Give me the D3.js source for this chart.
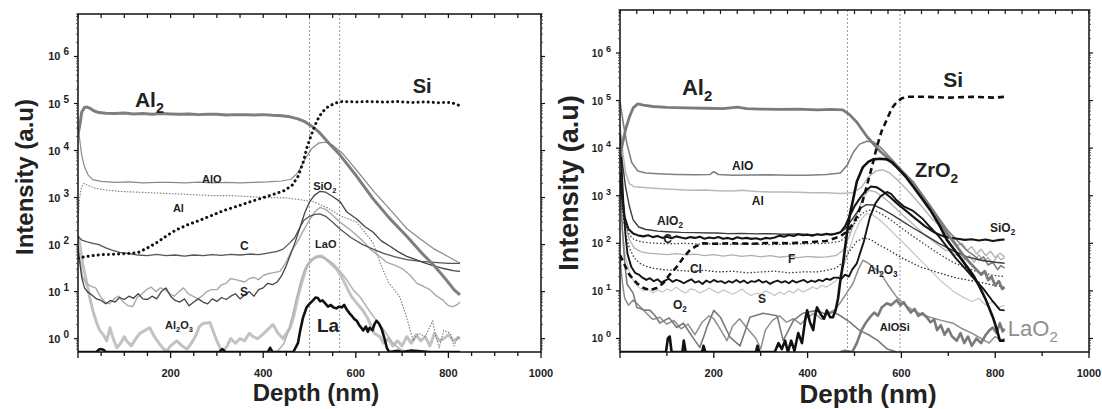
<!DOCTYPE html>
<html>
<head>
<meta charset="utf-8">
<script src="https://cdn.jsdelivr.net/npm/d3@7"></script>
<style>
  html, body { margin: 0; padding: 0; background: #fff; }
  svg { display: block; }
  text { font-family: "Liberation Sans", Arial, sans-serif; }
</style>
</head>
<body>
<svg id="chart" width="1102" height="409"></svg>
<script>
// ---------- shared axis values ----------
const depthDomain = [0, 1000];
const intensityDomain = [0.52, 8e6];
const decades = [0, 1, 2, 3, 4, 5, 6];
const depthLabels = [200, 400, 600, 800, 1000];

// ---------- left profile (La-containing stack) : [depth nm, intensity] ----------
const L_Al2 = [[0,2.2e4],[4,3.5e4],[8,6.5e4],[14,8.2e4],[20,8.4e4],[26,7.9e4],[34,7e4],[45,6.4e4],[60,6.2e4],[80,6.1e4],[100,6.3e4],[120,6e4],[140,6.1e4],[160,5.9e4],[180,6.1e4],[200,6e4],[220,5.9e4],[240,6e4],[260,5.8e4],[280,5.9e4],[300,5.9e4],[320,5.7e4],[340,5.8e4],[360,5.8e4],[380,5.7e4],[400,5.8e4],[420,5.6e4],[440,5.5e4],[458,5.2e4],[475,4.7e4],[490,4.1e4],[505,3.3e4],[520,2.5e4],[540,1.5e4],[566,8e3],[600,3e3],[637,950],[672,370],[710,150],[740,70],[770,35],[795,18],[812,11],[825,8.5]];
const L_Si = [[0,52],[15,55],[30,58],[50,61],[70,62],[90,63],[110,65],[130,68],[150,85],[170,110],[190,150],[210,200],[235,260],[260,320],[287,410],[315,530],[345,660],[370,800],[395,960],[420,1150],[445,1400],[462,1800],[475,2800],[486,5500],[495,1.2e4],[505,2.3e4],[516,4.3e4],[527,6.5e4],[540,8.5e4],[555,1.02e5],[570,1.1e5],[600,1.08e5],[630,1.1e5],[660,1.07e5],[690,1.1e5],[720,1.05e5],[750,1.08e5],[780,1.04e5],[805,1.06e5],[825,9e4]];
const L_AlO = [[0,3.5e4],[4,1.6e4],[8,8e3],[14,4.5e3],[22,3e3],[32,2.4e3],[50,2.2e3],[80,2.1e3],[110,2.15e3],[140,2.05e3],[170,2.1e3],[200,2.1e3],[230,2.05e3],[260,2.12e3],[290,2.05e3],[320,2.1e3],[350,2.05e3],[380,2.1e3],[410,2.15e3],[440,2.25e3],[460,2.45e3],[475,3.4e3],[490,6.5e3],[505,1.1e4],[520,1.45e4],[535,1.5e4],[550,1.3e4],[570,9e3],[600,4e3],[640,1.3e3],[680,480],[710,220],[740,130],[770,80],[800,55],[825,40]];
const L_Al = [[0,300],[3,900],[7,1.6e3],[12,2e3],[20,1.85e3],[35,1.6e3],[60,1.45e3],[90,1.35e3],[130,1.3e3],[170,1.25e3],[210,1.2e3],[250,1.15e3],[290,1.1e3],[330,1.1e3],[370,1.05e3],[410,1e3],[450,980],[480,900],[510,800],[540,600],[566,410],[602,300],[637,110],[652,42],[670,16],[695,7.7],[710,2.8],[724,0.9],[735,1.3],[750,1.1],[766,2.4],[772,1.2],[780,0.64],[790,1.5],[804,1.3],[812,0.7],[820,1.1],[825,0.9]];
const L_C = [[0,150],[8,125],[18,115],[30,108],[45,100],[60,85],[75,75],[90,68],[110,64],[130,60],[150,58],[170,62],[190,58],[210,60],[230,57],[250,60],[270,58],[290,61],[310,59],[330,62],[350,60],[370,63],[390,61],[410,66],[430,72],[443,80],[458,110],[468,140],[478,220],[488,330],[500,400],[512,440],[522,450],[535,400],[550,300],[566,215],[590,140],[615,100],[637,80],[660,65],[685,55],[710,48],[740,44],[770,42],[800,40],[825,40]];
const L_SiO2 = [[0,90],[4,40],[8,20],[14,12],[20,10],[30,8.5],[40,7],[50,6.5],[60,5.5],[70,6.5],[80,6],[90,7.5],[100,6.8],[110,8],[120,7.2],[130,9],[140,7],[150,6.8],[160,8],[170,7],[180,10],[190,12],[200,8],[210,6.5],[220,6],[230,7],[240,5],[250,6],[260,7],[270,6],[280,5.5],[290,7],[300,6.2],[310,7.5],[320,6.8],[330,8],[340,9],[350,7],[360,8.5],[370,10],[380,8],[390,11],[400,12],[410,15],[420,14],[430,16],[440,22],[449,34],[460,65],[470,120],[480,240],[490,480],[500,800],[510,1100],[522,1350],[535,1300],[550,1050],[566,820],[580,500],[602,350],[620,240],[637,185],[655,120],[674,92],[692,70],[710,56],[730,48],[745,42],[765,36],[790,31],[810,28],[825,27]];
const L_S = [[0,80],[5,40],[10,20],[18,15],[28,13],[38,12],[48,8],[58,6],[68,5.5],[78,7],[88,8],[98,6],[108,5],[118,4.8],[128,7.5],[138,9],[148,11],[158,12.5],[168,10],[178,12],[188,11],[198,9],[208,8],[218,10],[228,12],[238,9],[248,8],[258,7],[268,8],[278,10],[288,11],[300,11],[310,14],[320,15],[330,19],[340,18],[350,17],[360,16],[370,19],[380,20],[390,18],[400,22],[410,24],[420,25],[436,27],[448,40],[460,70],[473,110],[487,200],[501,350],[512,500],[523,620],[535,560],[550,420],[566,300],[594,185],[615,120],[631,80],[650,57],[667,42],[685,36],[702,30],[718,22],[732,15],[746,13],[760,11],[775,8],[788,6.6],[800,5],[810,4.8],[818,5.2],[825,6]];
const L_LaO = [[430,0.45],[445,0.8],[455,1.5],[463,3],[470,6],[480,15],[490,30],[500,42],[512,52],[522,55],[535,50],[550,40],[566,27],[580,18],[594,11],[610,7.5],[625,4.5],[640,2.8],[655,1.8],[668,1.2],[680,0.8],[695,0.6],[710,0.45]];
const L_Al2O3 = [[0,150],[4,100],[10,40],[19,15],[26,7],[32,4],[40,2.2],[47,1.5],[55,1.2],[62,0.9],[69,1.7],[76,1],[84,0.64],[92,0.8],[100,1.1],[105,0.9],[115,0.7],[125,1],[134,1.3],[145,1.5],[155,1.7],[165,1.1],[175,0.8],[185,0.6],[192,0.55],[200,0.7],[213,0.9],[225,0.7],[235,0.6],[245,0.8],[255,1.2],[262,1.8],[270,2.1],[285,2.2],[295,1.2],[300,0.9],[308,0.6],[314,0.55],[322,0.7],[330,1],[340,0.8],[350,1],[360,0.9],[370,1.3],[378,1.1],[388,1],[398,1.2],[408,1.5],[421,2],[432,1.3],[443,1],[450,1.3],[458,1.7],[466,3],[475,7.7],[485,18],[494,34],[505,48],[516,56],[527,57],[540,45],[559,30],[570,20],[580,12.6],[590,8],[602,5.7],[615,4],[625,2.8],[640,1.3],[652,1.1],[660,0.8],[670,1],[680,0.7],[690,0.9],[700,0.7],[710,1.1],[720,0.8],[730,1.2],[740,0.9],[750,1.1],[760,0.7],[770,1.3],[780,0.9],[790,1],[800,1.2],[812,0.9],[825,1.1]];
const L_La = [[0,0.5],[40,0.5],[45,0.58],[48,0.6],[55,0.58],[60,0.5],[305,0.5],[312,0.6],[318,0.5],[410,0.5],[415,0.64],[420,0.5],[465,0.5],[475,0.8],[480,1.5],[486,2.8],[494,4.7],[500,5.5],[508,6.6],[513,7.5],[518,7.3],[523,6.2],[528,6.5],[534,5.6],[540,4.8],[546,5.2],[552,4.6],[558,4.4],[564,4.8],[570,4.6],[575,5.2],[580,4.2],[587,3.4],[592,3],[597,2.6],[602,2.4],[608,1.9],[612,1.7],[616,1.5],[622,1.8],[626,1.4],[630,1.7],[636,1.5],[640,2],[645,2.4],[650,2.1],[656,1.6],[662,1],[667,0.64],[672,0.5],[690,0.55],[700,0.5],[720,0.56],[760,0.5],[825,0.5]];
const L_interfaces = [500, 565];

// ---------- right profile (Zr-containing stack) ----------
const R_Al2 = [[0,6.7e3],[5,1.2e4],[12,2.5e4],[20,4.5e4],[28,7e4],[38,8.5e4],[50,8e4],[70,7.5e4],[100,7.2e4],[140,7e4],[180,6.9e4],[220,6.8e4],[250,7.3e4],[270,6.8e4],[300,6.6e4],[340,6.5e4],[380,6.6e4],[420,6.4e4],[450,6.5e4],[475,6.4e4],[490,5e4],[505,3.5e4],[526,1.78e4],[555,8.5e3],[582,5e3],[625,1.9e3],[661,590],[697,165],[730,60],[745,40],[760,28],[770,22],[778,26],[785,17],[792,20],[800,13],[808,16],[815,11],[820,12]];
const R_Si = [[0,57],[10,35],[20,22],[36,14.5],[50,11.5],[64,10.3],[78,11.5],[92,14.5],[106,22],[121,32],[135,50],[149,72],[163,88],[177,100],[200,98],[240,100],[280,98],[320,102],[360,100],[400,105],[440,112],[470,140],[485,180],[497,260],[505,360],[516,700],[526,1.56e3],[537,4e3],[548,1.1e4],[558,2.3e4],[569,4e4],[580,7e4],[590,9.3e4],[600,1.1e5],[611,1.2e5],[650,1.2e5],[700,1.15e5],[750,1.2e5],[800,1.15e5],[820,1.2e5]];
const R_AlO = [[0,9.5e4],[8,2.9e4],[15,1.2e4],[25,5e3],[38,3.3e3],[55,3e3],[80,2.9e3],[120,2.8e3],[160,2.75e3],[192,2.8e3],[200,3.2e3],[210,2.8e3],[240,2.7e3],[280,2.72e3],[320,2.75e3],[360,2.7e3],[400,2.7e3],[440,2.8e3],[470,3e3],[485,4.5e3],[497,8e3],[510,1.2e4],[526,1.4e4],[540,1.35e4],[555,1.05e4],[575,6.5e3],[600,3.5e3],[625,1.9e3],[660,650],[700,180],[740,70],[755,55],[765,45],[775,52],[785,35],[795,40],[805,28],[812,34],[820,30]];
const R_Al = [[0,3e4],[6,8e3],[12,3e3],[20,1.8e3],[30,1.55e3],[45,1.5e3],[65,1.45e3],[90,1.4e3],[120,1.35e3],[150,1.3e3],[180,1.32e3],[210,1.28e3],[240,1.25e3],[260,1.3e3],[290,1.22e3],[320,1.2e3],[350,1.2e3],[380,1.18e3],[410,1.15e3],[440,1.15e3],[470,1.12e3],[495,1.15e3],[515,1.5e3],[530,2.5e3],[545,3.3e3],[560,3.5e3],[575,3e3],[595,2e3],[620,1.1e3],[650,500],[665,330],[680,240],[695,150],[710,120],[720,90],[730,100],[740,70],[750,85],[760,60],[770,75],[780,55],[790,68],[800,50],[810,62],[820,52]];
const R_AlO2 = [[0,1.5e4],[5,5e3],[12,1.5e3],[20,600],[28,310],[40,220],[55,195],[64,190],[80,180],[100,175],[130,170],[160,168],[190,165],[207,165],[230,160],[260,162],[290,158],[320,160],[350,155],[380,158],[410,152],[440,155],[465,160],[480,200],[495,320],[510,520],[525,650],[540,640],[560,520],[580,400],[600,300],[625,210],[650,150],[680,100],[710,70],[740,52],[770,44],[800,40],[820,38]];
const R_SiO2 = [[0,3e3],[5,900],[10,350],[18,200],[28,160],[40,145],[50,140],[60,148],[70,135],[80,142],[90,130],[100,138],[110,128],[120,140],[130,132],[140,126],[150,135],[160,130],[170,138],[180,125],[190,132],[200,128],[210,136],[220,125],[230,130],[240,122],[250,134],[260,126],[270,130],[280,124],[290,128],[300,120],[310,130],[320,126],[330,132],[340,145],[350,138],[360,150],[370,142],[380,155],[390,148],[400,152],[410,145],[420,155],[430,150],[440,158],[450,152],[460,160],[470,170],[480,230],[490,380],[500,600],[512,900],[525,1.3e3],[535,1.56e3],[548,1.5e3],[560,1.25e3],[575,950],[590,700],[610,480],[630,330],[650,230],[670,170],[690,140],[705,130],[720,125],[735,118],[750,122],[765,115],[780,120],[795,112],[810,118],[820,120]];
const R_C = [[0,2e3],[5,600],[12,250],[20,150],[30,120],[45,108],[60,103],[80,100],[110,98],[140,100],[170,96],[200,98],[240,95],[280,97],[320,94],[360,96],[400,98],[440,100],[470,110],[485,150],[500,260],[515,420],[530,500],[545,480],[560,400],[580,300],[600,210],[625,140],[650,95],[680,60],[710,40],[740,30],[770,24],[800,21],[820,20]];
const R_ClDot = [[0,3e3],[5,500],[12,150],[20,80],[30,50],[42,38],[55,33],[70,30],[90,28],[120,27],[150,26],[180,27],[210,25],[240,26],[270,24],[300,25],[330,26],[360,24],[390,25],[420,25],[440,27],[460,30],[475,40],[490,70],[505,110],[520,130],[535,120],[550,95],[570,75],[600,50],[640,32],[680,24],[710,19.5],[740,17],[770,15],[800,13],[820,12]];
const R_Cl = [[0,2e4],[4,3e3],[8,500],[12,140],[16,60],[24,32],[32,24],[40,22],[48,19],[56,17],[64,18.5],[72,16],[80,17.5],[88,15],[96,16.5],[104,18],[112,15.5],[120,17],[128,16],[136,14.5],[144,16],[152,17.5],[160,15],[168,16],[176,14],[184,16.5],[192,15],[200,17],[208,15.5],[216,16],[224,14.5],[232,16],[240,15],[248,17],[256,15],[264,16.5],[272,14.5],[280,16],[288,15.5],[296,17],[304,15],[312,16],[320,14],[328,15.5],[336,16.5],[344,15],[352,16],[360,14.5],[368,16.5],[376,15],[384,16],[392,17],[400,15],[408,16.5],[416,15.5],[424,17],[432,16],[440,18],[448,17],[456,19],[464,19],[472,18],[480,22],[488,20],[495,28],[505,38],[520,110],[533,360],[545,700],[555,960],[569,1.2e3],[578,1.1e3],[590,800],[605,600],[625,480],[645,330],[661,220],[680,140],[697,84],[715,50],[735,30],[755,18],[775,11],[795,6],[810,4],[820,3.9]];
const R_F = [[0,4e3],[5,1e3],[12,250],[20,120],[30,80],[45,66],[60,62],[80,60],[100,58],[120,61],[140,57],[160,59],[180,55],[200,58],[220,54],[240,57],[260,53],[280,56],[300,52],[320,55],[340,51],[360,54],[380,50],[400,53],[420,51],[440,52],[460,55],[475,70],[490,150],[505,400],[518,900],[530,1.3e3],[545,1.2e3],[560,950],[580,650],[600,420],[625,250],[650,150],[680,90],[695,70],[705,75],[715,55],[725,62],[735,45],[745,55],[755,40],[765,58],[775,42],[785,50],[795,38],[805,55],[812,45],[820,50]];
const R_S = [[0,1e3],[5,200],[12,50],[20,25],[30,15],[40,12],[50,10],[60,11],[70,9],[80,10.5],[90,9.5],[100,11],[110,10],[120,12],[130,10],[140,9],[150,11],[160,10.5],[170,9],[180,10],[190,11.5],[200,10],[210,9],[220,10.5],[230,9.5],[240,8.5],[250,9.5],[260,11],[270,9],[280,8],[290,9],[300,8.5],[310,10],[320,9],[330,8],[340,9.5],[350,8.5],[360,10],[370,9],[380,11],[390,9.5],[400,10.5],[410,12],[420,11],[430,13],[440,12],[450,14],[460,16],[470,22],[480,40],[490,80],[500,160],[512,300],[525,420],[538,400],[552,320],[570,220],[590,140],[610,90],[635,50],[660,28],[685,16],[710,10],[730,7.5],[750,6],[765,7],[780,5],[795,6],[808,4.5],[820,5]];
const R_O2 = [[0,2e3],[5,200],[10,40],[15,14],[28,9],[36,4.5],[50,4],[64,3.9],[75,3],[85,2.1],[95,2.4],[105,2.7],[121,1.7],[135,2.1],[149,1.3],[160,0.9],[170,0.65],[180,1.2],[185,1.7],[200,3.9],[214,2.8],[235,1.05],[256,0.7],[277,2.8],[305,3.4],[335,3],[348,0.9],[370,2.4],[390,3.4],[420,3.9],[440,3.2],[455,3.6],[470,3],[490,2.2],[510,1.5],[530,1.2],[550,0.9],[570,0.6],[590,0.5]];
const R_Al2O3 = [[0,50],[5,15],[10,7],[18,5],[28,6.4],[40,5],[55,3.5],[70,2.5],[85,2.8],[100,2],[115,2.4],[130,1.6],[145,2],[160,1.2],[175,2.2],[190,3],[200,2.6],[215,1.5],[228,0.9],[240,1.8],[255,2.6],[270,1.7],[290,1],[300,0.6],[310,1.5],[325,2.4],[340,3],[355,2.2],[370,2.6],[385,2],[400,2.8],[415,3.4],[430,2.5],[445,3.5],[458,4],[469,5.5],[483,9],[497,14.5],[508,28],[518,44],[530,38],[542,30],[554,25],[570,14],[590,7.4],[608,5],[625,3.9],[643,3.2],[661,2.8],[685,2.4],[710,2.1],[730,1.6],[750,1.3],[770,1],[787,0.8],[800,1.1],[812,0.9],[820,1]];
const R_AlOSi = [[470,0.45],[480,0.55],[495,0.5],[505,0.8],[515,1.5],[525,2.2],[533,2.8],[542,3.5],[550,3],[558,4.5],[569,5.5],[578,5],[590,6.4],[598,5],[605,5.8],[612,4.5],[620,3.5],[628,4.2],[636,3],[645,3.4],[654,2.8],[662,2.2],[670,2.5],[676,1.5],[684,1.9],[692,1.2],[700,1.6],[708,1.1],[718,0.9],[726,1.3],[734,0.8],[742,1.1],[750,0.7],[760,1],[770,0.8],[780,1.2],[788,1.5],[795,1.7],[803,1.3],[810,2.1],[816,1.4],[820,1.6]];
const R_ZrO2 = [[0,0.5],[98,0.5],[102,1],[106,1.1],[110,0.5],[133,0.5],[136,0.9],[140,0.5],[175,0.5],[178,0.7],[182,0.5],[290,0.5],[293,0.7],[297,0.5],[330,0.5],[338,0.8],[345,0.6],[352,0.9],[358,0.5],[365,0.9],[372,0.55],[380,1.3],[388,0.8],[395,2.5],[399,3.9],[405,2.2],[412,1.5],[416,3],[420,4.5],[428,3.2],[435,2.6],[441,3.9],[448,2.8],[454,2.8],[460,4],[465,7],[469,14.5],[476,40],[484,165],[490,400],[497,830],[505,2e3],[518,4e3],[530,5.2e3],[540,5.8e3],[555,6e3],[569,5.8e3],[580,5e3],[590,4e3],[608,2.6e3],[625,1.56e3],[643,900],[661,510],[680,250],[697,118],[712,75],[725,51],[740,32],[755,20],[767,12],[780,6.5],[795,2.8],[803,1.6],[810,0.9],[820,0.9]];
const R_interfaces = [485, 597];

// ---------- drawing ----------
const svg = d3.select("#chart");

// text with "_n" subscripts (e.g. "Al_2O_3")
function richText(sel, str, size) {
  const parts = str.split(/(_\d)/).filter(p => p.length);
  let sub = false;
  parts.forEach(p => {
    if (p[0] === "_") {
      sel.append("tspan").attr("font-size", size * 0.68).attr("dy", size * 0.28).text(p.slice(1));
      sub = true;
    } else {
      const t = sel.append("tspan").text(p);
      if (sub) { t.attr("dy", -size * 0.28); sub = false; }
    }
  });
}

function drawPanel(p) {
  const g = svg.append("g");
  const x = d3.scaleLinear().domain(depthDomain).range([p.x0, p.x1]);
  const y = d3.scaleLog().domain(intensityDomain).range([p.y1, p.y0]).clamp(true);

  const clipId = "clip" + p.id;
  svg.append("clipPath").attr("id", clipId).append("rect")
    .attr("x", p.x0).attr("y", p.y0).attr("width", p.x1 - p.x0).attr("height", p.y1 - p.y0);

  // interface guides
  g.selectAll(".guide").data(p.guides).join("line")
    .attr("x1", d => x(d)).attr("x2", d => x(d))
    .attr("y1", p.y0).attr("y2", p.y1)
    .attr("stroke", "#9a9a9a").attr("stroke-width", 1).attr("stroke-dasharray", "2,2");

  // profiles
  const line = d3.line().x(d => x(d[0])).y(d => y(d[1]));
  const plot = g.append("g").attr("clip-path", `url(#${clipId})`);
  p.series.forEach(s => {
    plot.append("path").datum(s.data)
      .attr("d", line)
      .attr("fill", "none")
      .attr("stroke", s.color)
      .attr("stroke-width", s.width)
      .attr("stroke-linejoin", "round")
      .attr("stroke-linecap", s.cap || "butt")
      .attr("stroke-dasharray", s.dash || null);
  });

  // frame
  g.append("rect").attr("x", p.x0).attr("y", p.y0)
    .attr("width", p.x1 - p.x0).attr("height", p.y1 - p.y0)
    .attr("fill", "none").attr("stroke", "#111").attr("stroke-width", 1.5);

  // bottom ticks (outward) and labels
  const bt = d3.range(0, 1000.01, p.bottomStep);
  g.selectAll(".bt").data(bt).join("line")
    .attr("x1", d => x(d)).attr("x2", d => x(d))
    .attr("y1", p.y1).attr("y2", d => p.y1 + (d % 200 === 0 ? 6 : 4))
    .attr("stroke", "#111").attr("stroke-width", 1.3);
  g.selectAll(".bl").data(depthLabels).join("text")
    .attr("x", d => x(d)).attr("y", p.y1 + 25)
    .attr("text-anchor", "middle").attr("font-size", 11).attr("font-weight", "bold")
    .attr("fill", "#222").text(d => d);

  // top ticks (inward)
  const tt = d3.range(0, p.topCount + 1).map(i => i * 1000 / p.topCount);
  g.selectAll(".tt").data(tt).join("line")
    .attr("x1", d => x(d)).attr("x2", d => x(d))
    .attr("y1", p.y0).attr("y2", p.y0 + 4)
    .attr("stroke", "#111").attr("stroke-width", 1.2);

  // log ticks on both vertical sides (outward)
  const minor = [];
  decades.concat([-1]).forEach(n => { for (let k = 2; k <= 9; k++) minor.push(k * Math.pow(10, n)); });
  const minorIn = minor.filter(v => v >= intensityDomain[0] && v <= intensityDomain[1]);
  const major = decades.map(n => Math.pow(10, n));
  [[p.x0, -1], [p.x1, 1]].forEach(([ax, dir]) => {
    g.selectAll(null).data(major).join("line")
      .attr("x1", ax).attr("x2", ax + dir * 4)
      .attr("y1", d => y(d)).attr("y2", d => y(d))
      .attr("stroke", "#111").attr("stroke-width", 1.2);
    g.selectAll(null).data(minorIn).join("line")
      .attr("x1", ax).attr("x2", ax + dir * 2)
      .attr("y1", d => y(d)).attr("y2", d => y(d))
      .attr("stroke", "#333").attr("stroke-width", 0.8);
  });

  // decade labels "10 n"
  decades.forEach(n => {
    const t = g.append("text")
      .attr("x", p.x0 - 9).attr("y", y(Math.pow(10, n)) + 4)
      .attr("text-anchor", "end").attr("font-weight", "bold").attr("fill", "#222");
    t.append("tspan").attr("font-size", p.tickSize).text("10");
    t.append("tspan").attr("font-size", p.tickSize - 1).attr("dx", 3).attr("dy", -5).text(n);
  });

  // axis titles
  g.append("text")
    .attr("transform", `translate(${p.yTitleX},${p.yTitleY}) rotate(-90)`)
    .attr("text-anchor", "middle").attr("font-size", p.yTitleSize).attr("font-weight", "bold")
    .attr("fill", "#222").text("Intensity (a.u)");
  g.append("text")
    .attr("x", p.xTitleX).attr("y", p.xTitleY)
    .attr("text-anchor", "middle").attr("font-size", p.xTitleSize).attr("font-weight", "bold")
    .attr("fill", "#222").text("Depth (nm)");

  // species labels, anchored in data space
  p.labels.forEach(l => {
    const t = g.append("text")
      .attr("x", x(l.d)).attr("y", y(l.v))
      .attr("font-size", l.size).attr("font-weight", l.weight || "bold")
      .attr("fill", l.color || "#222");
    richText(t, l.text, l.size);
  });
}

// left profile
drawPanel({
  id: "L", x0: 78, x1: 541, y0: 14, y1: 352,
  bottomStep: 50, topCount: 20, tickSize: 11,
  guides: L_interfaces,
  yTitleX: 33, yTitleY: 177, yTitleSize: 24,
  xTitleX: 316, xTitleY: 401, xTitleSize: 24,
  series: [
    { data: L_Al2O3, color: "#c2c2c2", width: 3 },
    { data: L_LaO,  color: "#b4b4b4", width: 1.6 },
    { data: L_S,    color: "#a9a9a9", width: 1.4 },
    { data: L_AlO,  color: "#8a8a8a", width: 1.2 },
    { data: L_Al,   color: "#7a7a7a", width: 1.1, dash: "1.5,1.5" },
    { data: L_C,    color: "#555",    width: 1.3 },
    { data: L_SiO2, color: "#444",    width: 1.3 },
    { data: L_Al2,  color: "#7b7f84", width: 3 },
    { data: L_Si,   color: "#111",    width: 3, dash: "0.1,5", cap: "round" },
    { data: L_La,   color: "#111",    width: 2.6 }
  ],
  labels: [
    { text: "Al_2", d: 123, v: Math.pow(10, 4.925), size: 21 },
    { text: "Si", d: 723, v: Math.pow(10, 5.223), size: 20 },
    { text: "AlO", d: 268, v: Math.pow(10, 3.31), size: 11 },
    { text: "Al", d: 205, v: Math.pow(10, 2.69), size: 11 },
    { text: "C", d: 350, v: Math.pow(10, 1.885), size: 12 },
    { text: "S", d: 350, v: Math.pow(10, 0.907), size: 12 },
    { text: "Al_2O_3", d: 188, v: Math.pow(10, 0.205), size: 11 },
    { text: "SiO_2", d: 508, v: Math.pow(10, 3.16), size: 11 },
    { text: "LaO", d: 512, v: Math.pow(10, 1.927), size: 11 },
    { text: "La", d: 516, v: Math.pow(10, 0.141), size: 19 }
  ]
});

// right profile
drawPanel({
  id: "R", x0: 620, x1: 1089, y0: 10, y1: 352,
  bottomStep: 100, topCount: 28, tickSize: 10,
  guides: R_interfaces,
  yTitleX: 578, yTitleY: 183, yTitleSize: 27,
  xTitleX: 868, xTitleY: 403, xTitleSize: 26,
  series: [
    { data: R_S,     color: "#c4c4c4", width: 1.2 },
    { data: R_F,     color: "#b0b0b0", width: 1.3 },
    { data: R_Al,    color: "#b8b8b8", width: 1.5 },
    { data: R_Al2O3, color: "#8e8e8e", width: 1.5 },
    { data: R_O2,    color: "#7a7a7a", width: 1.6 },
    { data: R_AlOSi, color: "#7a7a7a", width: 2.6 },
    { data: R_AlO,   color: "#808080", width: 1.6 },
    { data: R_C,     color: "#444",    width: 1.3, dash: "1.5,2" },
    { data: R_ClDot, color: "#333",    width: 1.3, dash: "1.5,2" },
    { data: R_AlO2,  color: "#3c3c3c", width: 1.4 },
    { data: R_Cl,    color: "#151515", width: 1.9 },
    { data: R_SiO2,  color: "#151515", width: 2.1 },
    { data: R_Al2,   color: "#7b7b7b", width: 2.8 },
    { data: R_ZrO2,  color: "#111",    width: 2.6 },
    { data: R_Si,    color: "#111",    width: 2.6, dash: "6,4" }
  ],
  labels: [
    { text: "Al_2", d: 132, v: Math.pow(10, 5.116), size: 22 },
    { text: "Si", d: 689, v: Math.pow(10, 5.284), size: 21 },
    { text: "ZrO_2", d: 629, v: Math.pow(10, 3.393), size: 20 },
    { text: "AlO", d: 239, v: Math.pow(10, 3.54), size: 12 },
    { text: "Al", d: 281, v: Math.pow(10, 2.805), size: 12 },
    { text: "AlO_2", d: 79, v: Math.pow(10, 2.385), size: 12 },
    { text: "C", d: 92, v: Math.pow(10, 2.006), size: 12 },
    { text: "F", d: 358, v: Math.pow(10, 1.586), size: 12 },
    { text: "Cl", d: 149, v: Math.pow(10, 1.376), size: 12 },
    { text: "S", d: 294, v: Math.pow(10, 0.746), size: 12 },
    { text: "O_2", d: 113, v: Math.pow(10, 0.62), size: 12 },
    { text: "SiO_2", d: 789, v: Math.pow(10, 2.238), size: 12 },
    { text: "Al_2O_3", d: 527, v: Math.pow(10, 1.355), size: 12 },
    { text: "AlOSi", d: 554, v: Math.pow(10, 0.157), size: 11 },
    { text: "LaO_2", d: 827, v: Math.pow(10, 0.052), size: 22, weight: "normal", color: "#8f8f8f" }
  ]
});
</script>
</body>
</html>
